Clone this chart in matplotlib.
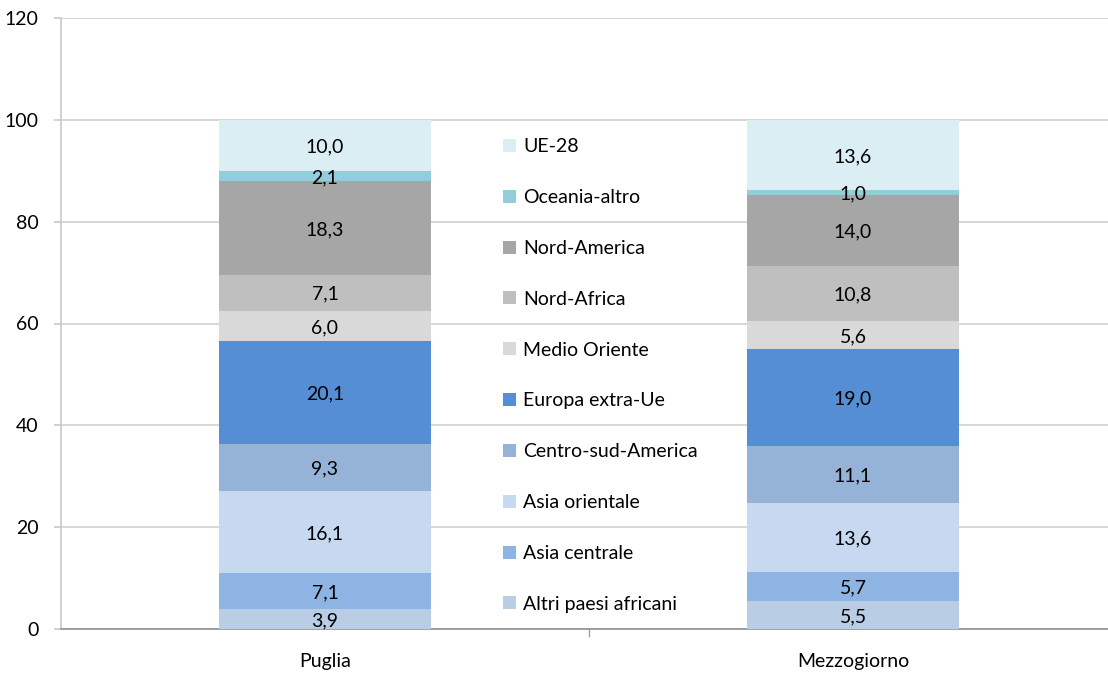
import matplotlib
matplotlib.use("Agg")
import matplotlib.pyplot as plt
from matplotlib.patches import Patch

categories = ["Puglia", "Mezzogiorno"]
series = ["Altri paesi africani", "Asia centrale", "Asia orientale", "Centro-sud-America",
          "Europa extra-Ue", "Medio Oriente", "Nord-Africa", "Nord-America",
          "Oceania-altro", "UE-28"]
puglia = [3.9, 7.1, 16.1, 9.3, 20.1, 6.0, 7.1, 18.3, 2.1, 10.0]
mezzogiorno = [5.5, 5.7, 13.6, 11.1, 19.0, 5.6, 10.8, 14.0, 1.0, 13.6]
colors = ["#B9CDE5", "#8EB4E3", "#C6D9F1", "#95B3D7", "#558ED5",
          "#D9D9D9", "#BFBFBF", "#A6A6A6", "#92CDDC", "#DBEEF4"]
yticks = [0, 20, 40, 60, 80, 100, 120]

plt.rcParams['font.family'] = ['Lato', 'DejaVu Sans']
FS = 14

fig = plt.figure(figsize=(11.08, 6.77), dpi=100)
W, H = 1108, 677
x0, x1, ytop, ybot = 61, 1117, 18, 629
ax = fig.add_axes([x0 / W, 1 - ybot / H, (x1 - x0) / W, (ybot - ytop) / H])

data = [puglia, mezzogiorno]
xs = [0, 1]
bottoms = [0.0, 0.0]
for i, name in enumerate(series):
    vals = [d[i] for d in data]
    ax.bar(xs, vals, width=0.4, bottom=bottoms, color=colors[i], zorder=3, label=name)
    for j, v in enumerate(vals):
        ax.text(xs[j], bottoms[j] + v / 2, f"{v:.1f}".replace(".", ","),
                ha="center", va="center_baseline", fontsize=FS, color="#000000", zorder=4)
    bottoms = [b + v for b, v in zip(bottoms, vals)]

ax.set_xlim(-0.5, 1.5)
ax.set_ylim(0, 120)
ax.set_yticks(yticks)
ax.set_yticklabels([str(t) for t in yticks], fontsize=FS)
ax.yaxis.grid(True, color="#D0D0D0", linewidth=1.2, zorder=0)
ax.set_xticks(xs)
ax.set_xticklabels(categories, fontsize=FS)
ax.tick_params(axis="x", length=0, pad=17)
ax.tick_params(axis="y", length=5, color="#C8C8C8", width=1.2, pad=11)
ax.plot([0.5, 0.5], [0, -1.3], color="#A0A0A0", lw=1, clip_on=False)
ax.spines["top"].set_visible(False)
ax.spines["right"].set_visible(False)
ax.spines["left"].set_color("#C8C8C8")
ax.spines["left"].set_linewidth(1.2)
ax.spines["bottom"].set_color("#909090")
ax.spines["bottom"].set_linewidth(1.2)

handles = [Patch(facecolor=colors[i], edgecolor="none") for i in range(len(series))][::-1]
labels = series[::-1]
fig.legend(handles, labels, loc="center left", bbox_to_anchor=(503 / W, 1 - 375.5 / H),
           frameon=False, fontsize=FS, labelspacing=1.74, handlelength=0.65,
           handleheight=0.65, handletextpad=0.4, borderpad=0, borderaxespad=0)

fig.savefig("out.png", dpi=100)
